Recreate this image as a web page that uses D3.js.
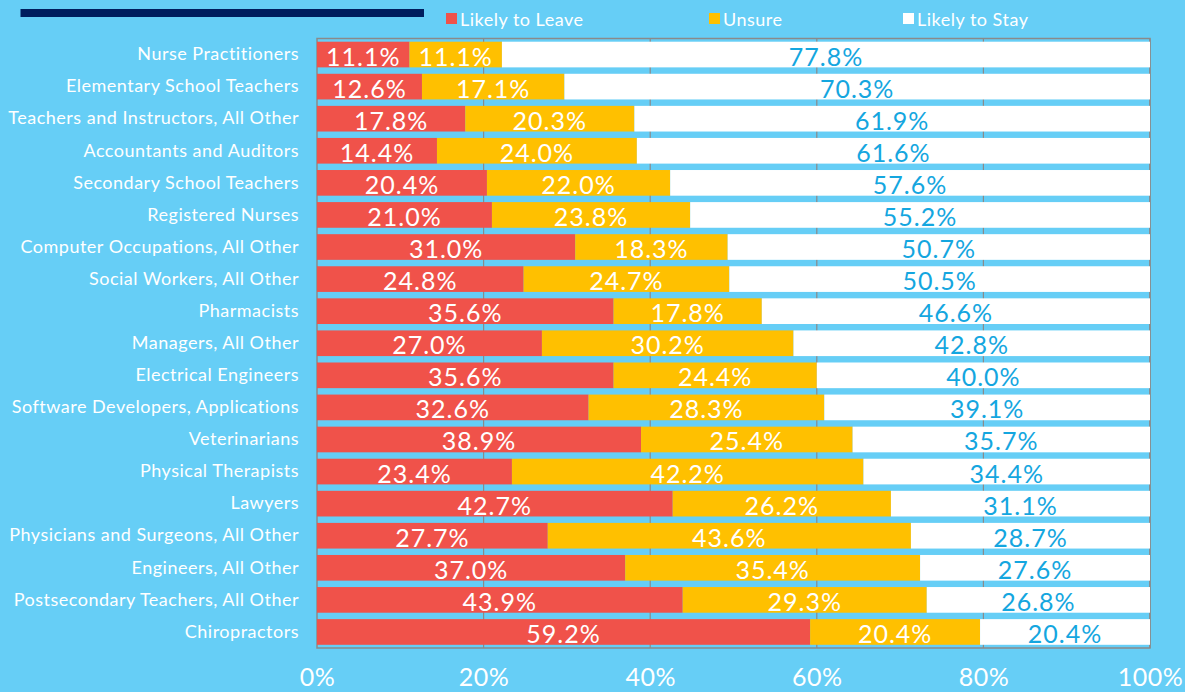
<!DOCTYPE html>
<html>
<head>
<meta charset="utf-8">
<script src="https://cdn.jsdelivr.net/npm/d3@7"></script>
<style>
  html, body { margin: 0; padding: 0; background: #66cef6; }
  svg { display: block; }
  text { font-family: Lato, "Open Sans", sans-serif; }
</style>
</head>
<body>
<svg id="chart" width="1185" height="692"></svg>
<script>
const categories = [
  "Nurse Practitioners",
  "Elementary School Teachers",
  "Teachers and Instructors, All Other",
  "Accountants and Auditors",
  "Secondary School Teachers",
  "Registered Nurses",
  "Computer Occupations, All Other",
  "Social Workers, All Other",
  "Pharmacists",
  "Managers, All Other",
  "Electrical Engineers",
  "Software Developers, Applications",
  "Veterinarians",
  "Physical Therapists",
  "Lawyers",
  "Physicians and Surgeons, All Other",
  "Engineers, All Other",
  "Postsecondary Teachers, All Other",
  "Chiropractors"
];
const likelyToLeave = [11.1, 12.6, 17.8, 14.4, 20.4, 21.0, 31.0, 24.8, 35.6, 27.0, 35.6, 32.6, 38.9, 23.4, 42.7, 27.7, 37.0, 43.9, 59.2];
const unsure        = [11.1, 17.1, 20.3, 24.0, 22.0, 23.8, 18.3, 24.7, 17.8, 30.2, 24.4, 28.3, 25.4, 42.2, 26.2, 43.6, 35.4, 29.3, 20.4];
const likelyToStay  = [77.8, 70.3, 61.9, 61.6, 57.6, 55.2, 50.7, 50.5, 46.6, 42.8, 40.0, 39.1, 35.7, 34.4, 31.1, 28.7, 27.6, 26.8, 20.4];
const seriesNames = ["Likely to Leave", "Unsure", "Likely to Stay"];
const xTicks = [0, 20, 40, 60, 80, 100];

const colors = { "Likely to Leave": "#f0524a", "Unsure": "#ffc000", "Likely to Stay": "#ffffff" };
const labelColors = { "Likely to Leave": "#ffffff", "Unsure": "#ffffff", "Likely to Stay": "#14a6df" };

const rows = categories.map((c, i) => ({
  category: c,
  "Likely to Leave": likelyToLeave[i],
  "Unsure": unsure[i],
  "Likely to Stay": likelyToStay[i]
}));

const svg = d3.select("#chart");
const margin = { left: 317, right: 35, top: 38.5, bottom: 44 };
const W = 1185, H = 692;

const x = d3.scaleLinear().domain([0, 100]).range([margin.left, W - margin.right]);
const y = d3.scaleBand().domain(categories).range([margin.top, H - margin.bottom]).paddingInner(0.2).paddingOuter(0.1);

// header rule
svg.append("rect").attr("x", 20.5).attr("y", 9).attr("width", 403.5).attr("height", 8).attr("fill", "#001e5e");

// gridlines and frame
const grid = svg.append("g");
grid.selectAll("line.v").data(xTicks.slice(1)).join("line")
  .attr("x1", d => x(d)).attr("x2", d => x(d))
  .attr("y1", margin.top).attr("y2", H - margin.bottom)
  .attr("stroke", "#8a8a8a").attr("stroke-width", 1.2);
grid.append("rect")
  .attr("x", x(0)).attr("y", margin.top)
  .attr("width", x(100) - x(0)).attr("height", H - margin.bottom - margin.top)
  .attr("fill", "none").attr("stroke", "#8a8a8a").attr("stroke-width", 1.5);

// stacked bars
const stack = d3.stack().keys(seriesNames)(rows);
const layers = svg.append("g").selectAll("g").data(stack).join("g")
  .attr("fill", d => colors[d.key]);
layers.selectAll("rect").data(d => d).join("rect")
  .attr("x", d => x(d[0]))
  .attr("y", d => y(d.data.category))
  .attr("width", d => x(d[1]) - x(d[0]))
  .attr("height", y.bandwidth());

// value labels
const vlab = svg.append("g").selectAll("g").data(stack).join("g")
  .attr("fill", d => labelColors[d.key]);
vlab.selectAll("text").data(d => d).join("text")
  .attr("x", d => (x(d[0]) + x(d[1])) / 2)
  .attr("y", d => y(d.data.category) + y.bandwidth() / 2 + 1)
  .attr("text-anchor", "middle")
  .attr("dominant-baseline", "central")
  .attr("font-size", 25)
  .attr("letter-spacing", 1)
  .text(d => (d[1] - d[0]).toFixed(1) + "%");

// category axis
const yAxis = svg.append("g").attr("transform", `translate(${x(0)},0)`)
  .call(d3.axisLeft(y).tickSize(0).tickPadding(18));
yAxis.select(".domain").remove();
yAxis.selectAll("text").attr("fill", "#ffffff").attr("font-size", 18)
  .attr("letter-spacing", 0.5).attr("font-family", "Lato, sans-serif");

// value axis: labels sit on a baseline just above the bottom edge
const xAxis = svg.append("g").attr("transform", `translate(0,${H - margin.bottom})`)
  .call(d3.axisBottom(x).tickValues(xTicks).tickFormat(d => d + "%").tickSize(0));
xAxis.select(".domain").remove();
xAxis.selectAll("text")
  .attr("y", 38).attr("dy", null)
  .attr("fill", "#ffffff").attr("font-size", 25)
  .attr("letter-spacing", 0.5).attr("font-family", "Lato, sans-serif");

// legend
const legendX = [446, 709, 903];
const legend = svg.append("g").selectAll("g").data(seriesNames).join("g")
  .attr("transform", (d, i) => `translate(${legendX[i]},13)`);
legend.append("rect").attr("width", 11).attr("height", 11).attr("fill", d => colors[d]);
legend.append("text").attr("x", 14).attr("y", 6).attr("dominant-baseline", "central")
  .attr("fill", "#ffffff").attr("font-size", 18).attr("letter-spacing", 0.5).text(d => d);
</script>
</body>
</html>
